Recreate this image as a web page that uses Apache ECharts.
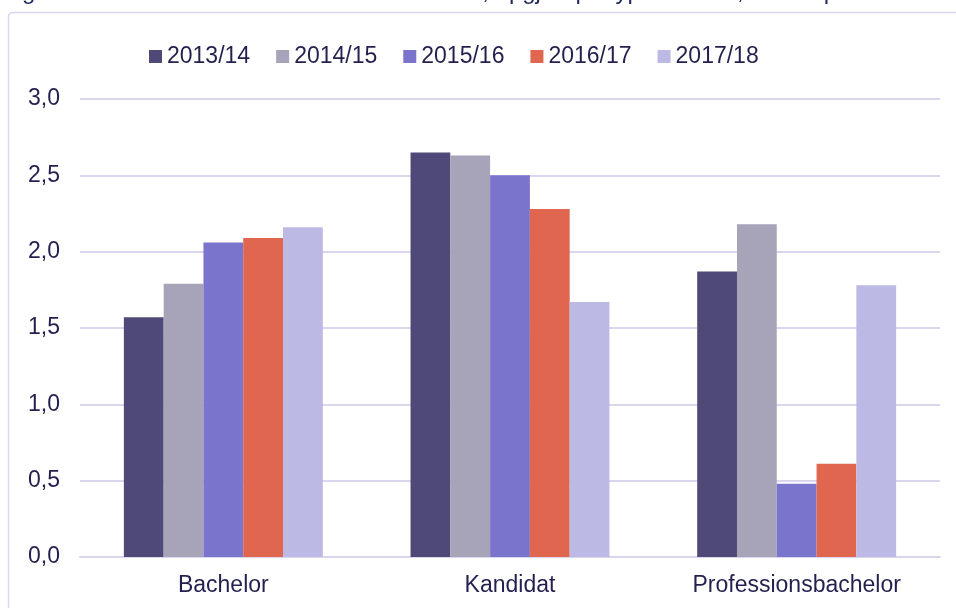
<!DOCTYPE html>
<html>
<head>
<meta charset="utf-8">
<script src="https://cdn.jsdelivr.net/npm/echarts@6/dist/echarts.min.js"></script>
<style>
  html, body { margin: 0; padding: 0; background: #ffffff; }
  #chart { width: 956px; height: 608px; }
</style>
</head>
<body>
<div id="chart"></div>
<script>
// Education types on the category axis
const categories = ['Bachelor', 'Kandidat', 'Professionsbachelor'];

// Academic years shown as series
const years = ['2013/14', '2014/15', '2015/16', '2016/17', '2017/18'];

// Values per year (Bachelor, Kandidat, Professionsbachelor)
const values2013 = [1.57, 2.65, 1.87];
const values2014 = [1.79, 2.63, 2.18];
const values2015 = [2.06, 2.50, 0.48];
const values2016 = [2.09, 2.28, 0.61];
const values2017 = [2.16, 1.67, 1.78];

const seriesValues = [values2013, values2014, values2015, values2016, values2017];
const seriesColors = ['#4e4976', '#a7a4ba', '#7b74cc', '#e06650', '#bcbae4'];

const textColor = '#231f4f';
const lineColor = '#d9d6f0';
const fontFamily = 'Liberation Sans, Arial, sans-serif';

const chart = echarts.init(document.getElementById('chart'), null, { renderer: 'canvas' });

chart.setOption({
  backgroundColor: '#ffffff',
  animation: false,
  textStyle: { fontFamily: fontFamily, color: textColor },
  graphic: [
    {
      type: 'text',
      left: 2,
      top: -20,
      silent: true,
      style: {
        text: 'Figur 6.7: Overskridelse af normeret studietid, opgjort på type af ANS, fordelt på år',
        fontSize: 24,
        fontFamily: fontFamily,
        fill: '#1f2a5c'
      }
    },
    {
      type: 'rect',
      silent: true,
      shape: { x: 8.5, y: 12.5, width: 980, height: 640, r: 4 },
      style: { fill: 'none', stroke: lineColor, lineWidth: 1.5 }
    }
  ],
  legend: {
    left: 144,
    top: 40,
    itemWidth: 13,
    itemHeight: 13,
    itemGap: 26,
    icon: 'rect',
    textStyle: { fontSize: 23, color: textColor, fontFamily: fontFamily },
    data: years
  },
  grid: { left: 80, right: 16, top: 99, bottom: 51, containLabel: false },
  xAxis: {
    type: 'category',
    data: categories,
    axisLine: { show: true, lineStyle: { color: lineColor, width: 2 } },
    axisTick: { show: false },
    axisLabel: { fontSize: 23, color: textColor, margin: 17 }
  },
  yAxis: {
    type: 'value',
    min: 0,
    max: 3,
    interval: 0.5,
    axisLine: { show: false },
    axisTick: { show: false },
    splitLine: { lineStyle: { color: lineColor, width: 2 } },
    axisLabel: {
      fontSize: 23,
      color: textColor,
      margin: 20,
      formatter: v => v.toFixed(1).replace('.', ',')
    }
  },
  series: years.map((name, i) => ({
    name: name,
    type: 'bar',
    data: seriesValues[i],
    barGap: '0%',
    barCategoryGap: '30.6%',
    itemStyle: { color: seriesColors[i] }
  }))
});
</script>
</body>
</html>
